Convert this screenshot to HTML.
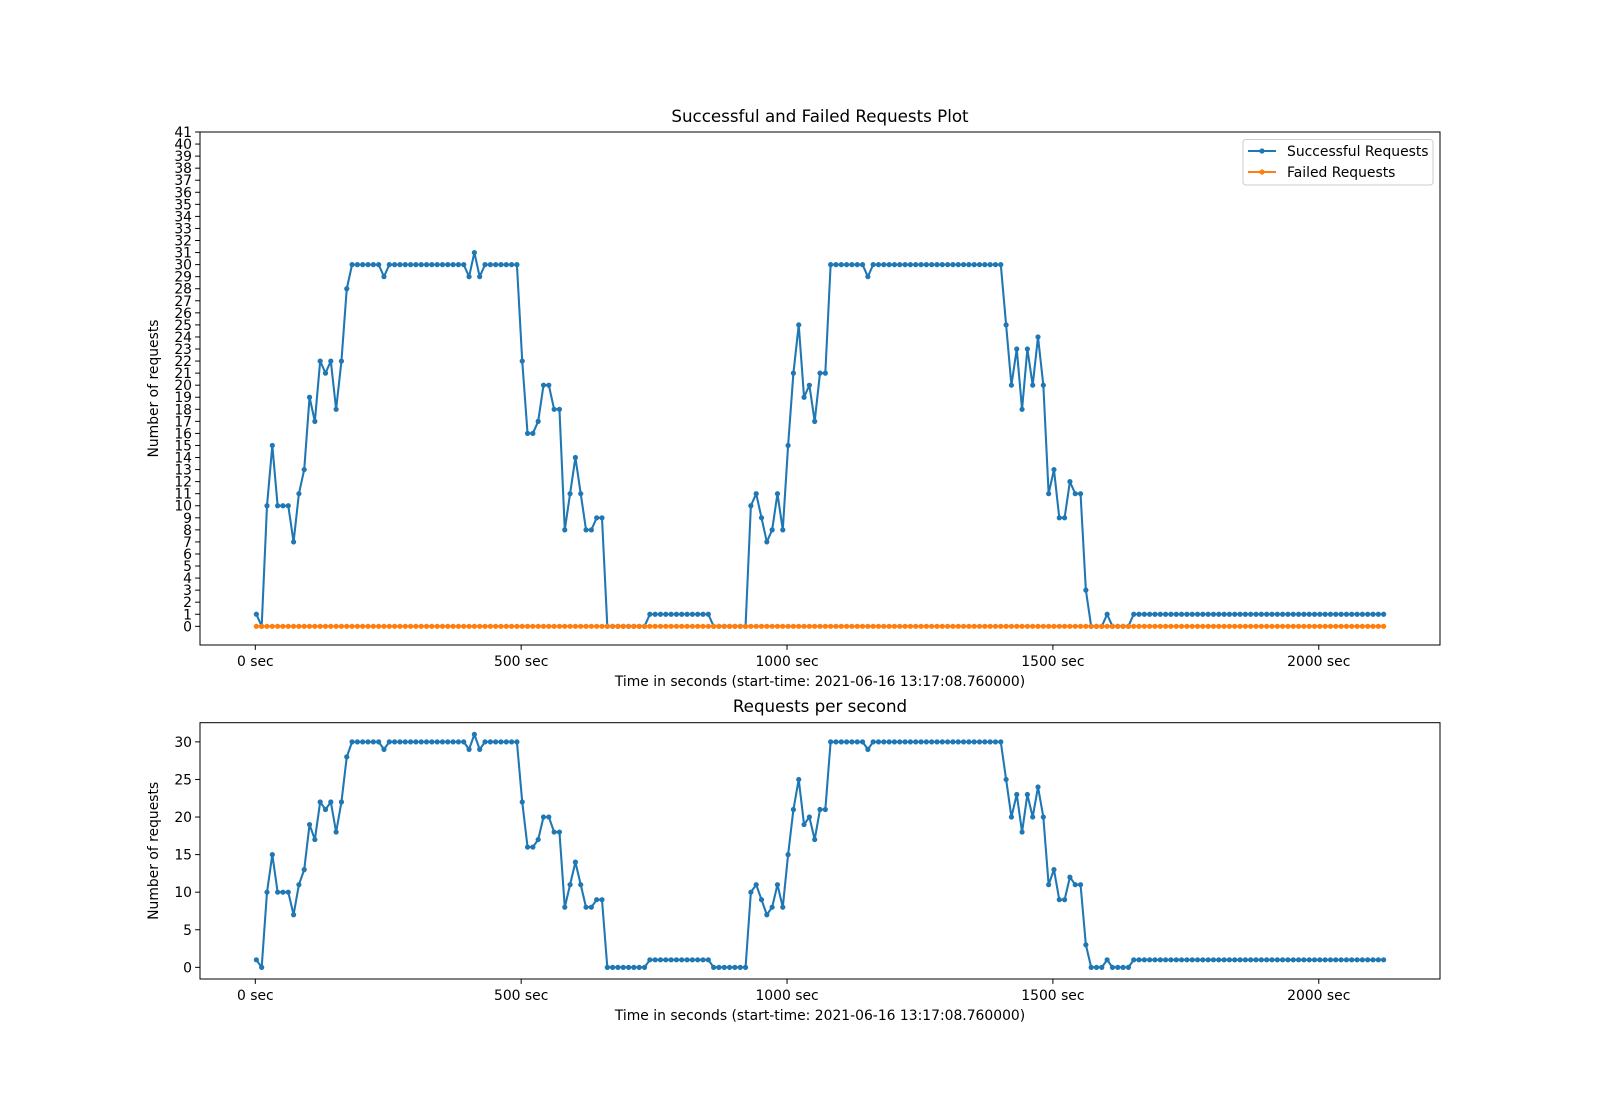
<!DOCTYPE html>
<html><head><meta charset="utf-8"><style>
html,body{margin:0;padding:0;background:#fff;}
svg{display:block;font-family:"DejaVu Sans","Liberation Sans",sans-serif;}
</style></head><body>
<svg id="fig" width="1600" height="1100" viewBox="0 0 1600 1100" xmlns="http://www.w3.org/2000/svg">
<rect width="1600" height="1100" fill="#fff"/>
</svg>
<script>
const times = [2,12,22,32,42,52,62,72,82,92,102,112,122,132,142,152,162,172,182,192,202,212,222,232,242,252,262,272,282,292,302,312,322,332,342,352,362,372,382,392,402,412,422,432,442,452,462,472,482,492,502,512,522,532,542,552,562,572,582,592,602,612,622,632,642,652,662,672,682,692,702,712,722,732,742,752,762,772,782,792,802,812,822,832,842,852,862,872,882,892,902,912,922,932,942,952,962,972,982,992,1002,1012,1022,1032,1042,1052,1062,1072,1082,1092,1102,1112,1122,1132,1142,1152,1162,1172,1182,1192,1202,1212,1222,1232,1242,1252,1262,1272,1282,1292,1302,1312,1322,1332,1342,1352,1362,1372,1382,1392,1402,1412,1422,1432,1442,1452,1462,1472,1482,1492,1502,1512,1522,1532,1542,1552,1562,1572,1582,1592,1602,1612,1622,1632,1642,1652,1662,1672,1682,1692,1702,1712,1722,1732,1742,1752,1762,1772,1782,1792,1802,1812,1822,1832,1842,1852,1862,1872,1882,1892,1902,1912,1922,1932,1942,1952,1962,1972,1982,1992,2002,2012,2022,2032,2042,2052,2062,2072,2082,2092,2102,2112,2122];
const successful = [1,0,10,15,10,10,10,7,11,13,19,17,22,21,22,18,22,28,
30,30,30,30,30,30,29,
30,30,30,30,30, 30,30,30,30,30, 30,30,30,30,30,
29,31,29,
30,30,30,30,30,30,30,
22,16,16,17,20,20,18,18,8,11,14,11,8,8,9,9,
0,0,0,0,0,0,0,0,
1,1,1,1,1,1,1,1,1,1,1,1,
0,0,0,0,0,0,0,
10,11,9,7,8,11,8,15,21,25,19,20,17,21,21,
30,30,30,30,30,30,30,
29,
30,30,30,30,30, 30,30,30,30,30, 30,30,30,30,30, 30,30,30,30,30, 30,30,30,30,30,
25,20,23,18,23,20,24,20,11,13,9,9,12,11,11,3,
0,0,0,1,0,0,0,0,
1,1,1,1,1,1,1,1,1,1, 1,1,1,1,1,1,1,1,1,1, 1,1,1,1,1,1,1,1,1,1, 1,1,1,1,1,1,1,1,1,1, 1,1,1,1,1,1,1,1];
const failed = [0,0,0,0,0,0,0,0,0,0, 0,0,0,0,0,0,0,0,0,0, 0,0,0,0,0,0,0,0,0,0, 0,0,0,0,0,0,0,0,0,0, 0,0,0,0,0,0,0,0,0,0,
0,0,0,0,0,0,0,0,0,0, 0,0,0,0,0,0,0,0,0,0, 0,0,0,0,0,0,0,0,0,0, 0,0,0,0,0,0,0,0,0,0, 0,0,0,0,0,0,0,0,0,0,
0,0,0,0,0,0,0,0,0,0, 0,0,0,0,0,0,0,0,0,0, 0,0,0,0,0,0,0,0,0,0, 0,0,0,0,0,0,0,0,0,0, 0,0,0,0,0,0,0,0,0,0,
0,0,0,0,0,0,0,0,0,0, 0,0,0,0,0,0,0,0,0,0, 0,0,0,0,0,0,0,0,0,0, 0,0,0,0,0,0,0,0,0,0, 0,0,0,0,0,0,0,0,0,0,
0,0,0,0,0,0,0,0,0,0, 0,0,0];
const xTicks = [0,500,1000,1500,2000];
const xTickLabels = ["0 sec","500 sec","1000 sec","1500 sec","2000 sec"];
const topYTicks = [0,1,2,3,4,5,6,7,8,9,10,11,12,13,14,15,16,17,18,19,20,21,22,23,24,25,26,27,28,29,30,31,32,33,34,35,36,37,38,39,40,41];
const bottomYTicks = [0,5,10,15,20,25,30];
const xlabelText = "Time in seconds (start-time: 2021-06-16 13:17:08.760000)";

const NS = "http://www.w3.org/2000/svg";
const svgEl = document.getElementById('fig');
function mk(tag, attrs, parent){const e=document.createElementNS(NS,tag);for(const k in attrs)e.setAttribute(k,attrs[k]);(parent||svgEl).appendChild(e);return e;}

const tMin=Math.min(...times), tMax=Math.max(...times), tPad=(tMax-tMin)*0.05;
const X0=200, X1=1440;
function xs(t){return X0+(t-(tMin-tPad))/((tMax+tPad)-(tMin-tPad))*(X1-X0);}

function drawAxes(g, Y0, Y1, yMin, yMax, yTicks, title, titleY, titleSize, name){
  const ys=v=>Y1-(v-yMin)/(yMax-yMin)*(Y1-Y0);
  const clipId='clip-'+name;
  const cp=mk('clipPath',{id:clipId},g);
  mk('rect',{x:X0,y:Y0,width:X1-X0,height:Y1-Y0},cp);
  yTicks.forEach(v=>{
    const y=ys(v);
    const tk=mk('line',{x1:X0-4.9,x2:X0,y1:y,y2:y,stroke:'#000','stroke-width':1},g);
    
    
    const tl=mk('text',{x:X0-8,y:y+5,'text-anchor':'end','font-size':'13.9px',fill:'#000'},g);
    tl.textContent=v;
    
    
  });
  xTicks.forEach((v,i)=>{
    const x=xs(v);
    const tk=mk('line',{x1:x,x2:x,y1:Y1,y2:Y1+4.9,stroke:'#000','stroke-width':1},g);
    
    
    const tl=mk('text',{x:x,y:Y1+21,'text-anchor':'middle','font-size':'13.9px',fill:'#000'},g);
    tl.textContent=xTickLabels[i];
    
    
  });
  const xl=mk('text',{x:(X0+X1)/2,y:Y1+41,'text-anchor':'middle','font-size':'13.9px',fill:'#000'},g);
  xl.textContent=xlabelText;
  
  
  const yl=mk('text',{x:0,y:0,'text-anchor':'middle','font-size':'13.9px',fill:'#000',transform:`translate(${X0-42},${(Y0+Y1)/2}) rotate(-90)`},g);
  yl.textContent="Number of requests";
  
  
  const tt=mk('text',{x:(X0+X1)/2,y:titleY,'text-anchor':'middle','font-size':titleSize,fill:'#000'},g);
  tt.textContent=title;
  
  
  return {ys:ys,clipId:clipId};
}

function drawSeries(g, vals, ys, color, clipId, name){
  const sg=mk('g',{'clip-path':`url(#${clipId})`},g);
  
  
  const n=Math.min(vals.length,times.length);
  const arr=[];
  for(let i=0;i<n;i++)arr.push(xs(times[i]).toFixed(2)+','+ys(vals[i]).toFixed(2));
  const pl=mk('polyline',{points:arr.join(' '),fill:'none',stroke:color,'stroke-width':2.08,'stroke-linejoin':'round'},sg);
  
  
  for(let i=0;i<n;i++){
    const c=mk('circle',{cx:xs(times[i]),cy:ys(vals[i]),r:2.6,fill:color},sg);
    
    
  }
}

const gTop=mk('g',{});


const topAx=drawAxes(gTop,132,645,-1.55,41,topYTicks,"Successful and Failed Requests Plot",122,'16.7px','top');
drawSeries(gTop,successful,topAx.ys,'#1f77b4',topAx.clipId,'successful-series');
drawSeries(gTop,failed,topAx.ys,'#ff7f0e',topAx.clipId,'failed-series');
const f1=mk('rect',{x:X0,y:132,width:X1-X0,height:513,fill:'none',stroke:'#000','stroke-width':1},gTop);



const lg=mk('g',{});


mk('rect',{x:1243,y:139.5,width:190,height:45.5,rx:3,fill:'#fff',stroke:'#ccc','stroke-width':1},lg);
[['Successful Requests','#1f77b4',151],['Failed Requests','#ff7f0e',172]].forEach(function(d){
  const e=mk('g',{},lg);
  
  
  mk('line',{x1:1248,x2:1276,y1:d[2],y2:d[2],stroke:d[1],'stroke-width':2.08},e);
  mk('circle',{cx:1262,cy:d[2],r:2.6,fill:d[1]},e);
  const t=mk('text',{x:1287,y:d[2]+5,'font-size':'13.9px',fill:'#000'},e);
  t.textContent=d[0];
});

const gBot=mk('g',{});


const botAx=drawAxes(gBot,722.7,979,-1.55,32.55,bottomYTicks,"Requests per second",712,'16.7px','bot');
drawSeries(gBot,successful,botAx.ys,'#1f77b4',botAx.clipId,'requests-per-second-series');
const f2=mk('rect',{x:X0,y:722.7,width:X1-X0,height:256.3,fill:'none',stroke:'#000','stroke-width':1},gBot);


</script>
</body></html>
